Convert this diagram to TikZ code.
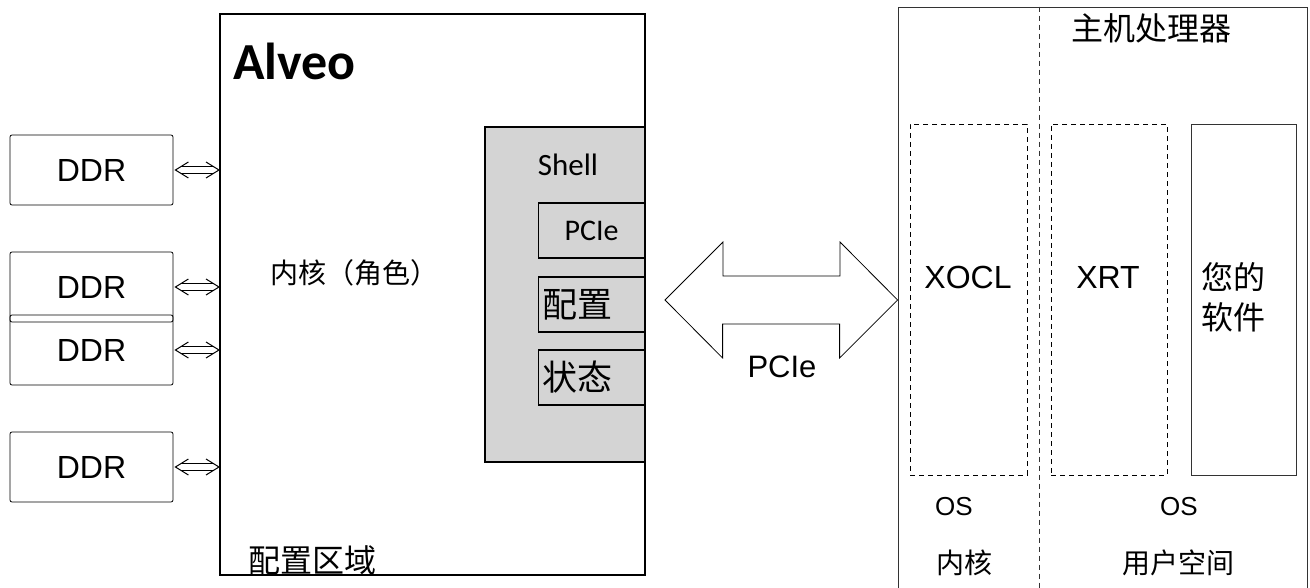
\documentclass[tikz,border=0pt]{standalone}
\usepackage{fontspec}
\setmainfont{Liberation Sans}
\newfontfamily\cjk{Noto Sans CJK SC}
\newfontfamily\cali{Carlito}
\usetikzlibrary{arrows.meta, calc, positioning}
\newcommand{\fsz}[1]{\fontsize{#1}{#1}\selectfont}

\begin{document}
\begin{tikzpicture}[x=0.5pt, y=-0.5pt,
		ddr/.style={draw, rounded corners=1pt, minimum width=81.5pt, minimum height=35pt, font=\fsz{16}},
		slot/.style={draw, line width=0.75pt, minimum height=27.5pt, text width=49pt, inner xsep=2pt, inner ysep=0pt},
		dashbox/.style={draw, dash pattern=on 2.5pt off 2pt, minimum height=175.5pt, inner sep=0pt},
		bus/.style={line width=0.5pt, line join=miter},
		cn/.style={font=\cjk\fsz{#1}},
		]
	\useasboundingbox (0,0) rectangle (1310,588);
	\clip (0,0) rectangle (1310,588);

	% FPGA card
	\node[draw, line width=1pt, minimum width=212.5pt, minimum height=280.5pt, inner sep=0pt] (alveo) at (432.5,294.5) {};
	\node[font=\cali\bfseries\fsz{26}, anchor=base west, inner sep=0pt] (title) at (233,80) {Alveo};
	\node[cn=14] (kernel) at (354,273) {内核（角色）};
	\node[cn=16] (region) at (312,560) {配置区域};

	\node[draw, line width=0.75pt, fill=black!17, minimum width=80pt, minimum height=167.5pt, inner sep=0pt] (shell) at (565,294.5) {};
	\node[font=\cali\fsz{15.5}] (shelltxt) at (568,165) {Shell};
	\node[slot, align=center, font=\cali\fsz{15}] (pciebox) at (591.5,230.5) {PCIe};
	\node[slot, align=left, cn=17.5] (cfg) at (591.5,304.5) {配置};
	\node[slot, align=left, cn=17.5] (stat) at (591.5,377.5) {状态};

	% memories
	\foreach \i/\y in {1/170, 2/287, 3/350, 4/467} {
		\node[ddr] (ddr\i) at (91.5,\y) {DDR};
		\coordinate (a\i) at ([xshift=1pt]ddr\i.east);
		\coordinate (b\i) at (ddr\i.east -| alveo.west);
		\draw[bus] ([shift={(6,-3.7)}]a\i) -- ([shift={(-6,-3.7)}]b\i)
			([shift={(6,3.7)}]a\i) -- ([shift={(-6,3.7)}]b\i);
		\draw[bus] ([shift={(13,-8)}]a\i) -- (a\i) -- ([shift={(13,8)}]a\i)
			([shift={(-13,-8)}]b\i) -- (b\i) -- ([shift={(-13,8)}]b\i);
	}

	% host side
	\node[draw, black!80, minimum width=204.5pt, minimum height=306.5pt, inner sep=0pt] (host) at (1102.5,313.5) {};
	\coordinate (div) at (1039,0);
	\draw[black!80, dash pattern=on 2.5pt off 2pt] (host.north -| div) -- (host.south -| div);
	\node[cn=16] (cpu) at (1151,28) {主机处理器};

	\node[dashbox, minimum width=58.5pt] (xocl) at (968.5,299.5) {};
	\node[dashbox, minimum width=58pt] (xrt) at (1109,299.5) {};
	\node[draw, black!80, minimum width=52.5pt, minimum height=175.5pt, inner sep=0pt] (sw) at (1243.5,299.5) {};
	\node[font=\fsz{16}] (xocltxt) at (968,277) {XOCL};
	\node[font=\fsz{16}] (xrttxt) at (1108,277) {XRT};
	\node[font=\cjk\fontsize{16}{20}\selectfont, align=center] (swtxt) at (1233,297) {您的\\软件};

	\node[font=\fsz{13}] (os1) at (954,507) {OS};
	\node[font=\fsz{13}] (os2) at (1179,507) {OS};
	\node[cn=14] (kspace) at (964,563) {内核};
	\node[cn=14] (uspace) at (1178,563) {用户空间};

	% PCIe link
	\coordinate (pl) at (665,300);
	\coordinate (pr) at (host.west |- pl);
	\draw (pl) -- ++(58,-58) -- ++(0,34) -- ++(117,0) -- ++(0,-34) -- (pr)
		-- ++(-58,58) -- ++(0,-34) -- ++(-117,0) -- ++(0,34) -- cycle;
	\node[font=\fsz{15.5}] (link) at (782,367) {PCIe};

\end{tikzpicture}
\end{document}
